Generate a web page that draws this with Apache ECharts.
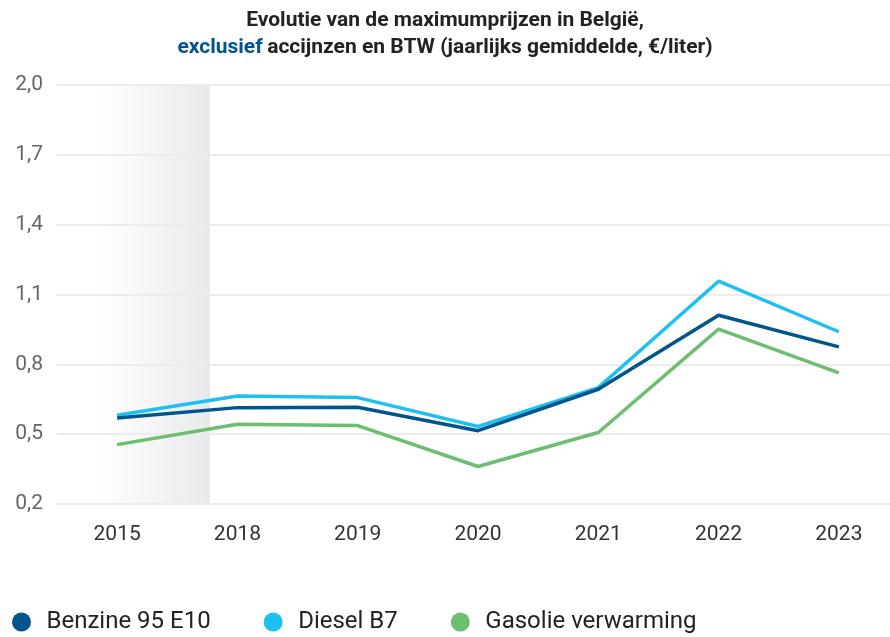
<!DOCTYPE html>
<html>
<head>
<meta charset="utf-8">
<script src="https://cdn.jsdelivr.net/npm/echarts@6/dist/echarts.min.js"></script>
<style>
  html, body { margin: 0; padding: 0; background: #fff; }
  #chart { width: 890px; height: 637px; }
</style>
</head>
<body>
<div id="chart"></div>
<script>
// jaren en gemiddelde prijzen (€/liter)
const years = ['2015', '2018', '2019', '2020', '2021', '2022', '2023'];
const benzine = [0.569, 0.614, 0.616, 0.515, 0.693, 1.011, 0.875];
const diesel = [0.581, 0.664, 0.657, 0.533, 0.700, 1.157, 0.940];
const gasolie = [0.455, 0.543, 0.537, 0.361, 0.507, 0.951, 0.763];
const yTicks = [0.2, 0.5, 0.8, 1.1, 1.4, 1.7, 2.0];

const font = "Roboto, 'Noto Sans', sans-serif";

const chart = echarts.init(document.getElementById('chart'));

const option = {
  backgroundColor: '#fff',
  textStyle: { fontFamily: font },
  title: {
    left: 'center',
    top: 2,
    text: '{b|Evolutie van de maximumprijzen in België,}\n{c|exclusief} {b|accijnzen en BTW (jaarlijks gemiddelde, €/liter)}',
    textStyle: {
      rich: {
        b: { fontFamily: font, fontSize: 21, fontWeight: 'bold', color: '#222', lineHeight: 27 },
        c: { fontFamily: font, fontSize: 21, fontWeight: 'bold', color: '#00558c', lineHeight: 27 }
      }
    }
  },
  legend: {
    left: 7,
    top: 605,
    icon: 'circle',
    itemWidth: 40,
    itemHeight: 19,
    itemGap: 53,
    textStyle: { fontFamily: font, fontSize: 24, color: '#222' },
    data: ['Benzine 95 E10', 'Diesel B7', 'Gasolie verwarming']
  },
  grid: {
    left: 57,
    width: 842,
    top: 85,
    bottom: 133,
    outerBoundsMode: 'none',
    containLabel: false
  },
  // grijze zone achter 2015
  graphic: [
    {
      type: 'rect',
      z: -10,
      shape: { x: 95, y: 85, width: 115, height: 419 },
      style: {
        fill: new echarts.graphic.LinearGradient(0, 0, 1, 0, [
          { offset: 0, color: 'rgba(236,237,239,0)' },
          { offset: 1, color: 'rgba(232,233,235,1)' }
        ])
      }
    }
  ],
  xAxis: {
    type: 'category',
    data: years,
    boundaryGap: true,
    axisLine: { show: false },
    axisTick: { show: false },
    axisLabel: { fontFamily: font, fontSize: 21, color: '#333', margin: 20 }
  },
  yAxis: {
    type: 'value',
    min: 0.2,
    max: 2.0,
    axisLine: { show: false },
    axisTick: { show: false, customValues: yTicks },
    axisLabel: {
      customValues: yTicks,
      fontFamily: font,
      fontSize: 21,
      color: '#666',
      margin: 14,
      formatter: v => v.toFixed(1).replace('.', ',')
    },
    splitLine: { show: true, lineStyle: { color: '#ececec', width: 2 } }
  },
  series: [
    {
      name: 'Benzine 95 E10',
      type: 'line',
      data: benzine,
      symbol: 'none',
      z: 4,
      lineStyle: { width: 3.5, color: '#00558c' },
      itemStyle: { color: '#00558c' }
    },
    {
      name: 'Diesel B7',
      type: 'line',
      data: diesel,
      symbol: 'none',
      z: 3,
      lineStyle: { width: 3.5, color: '#1ec0f2' },
      itemStyle: { color: '#1ec0f2' }
    },
    {
      name: 'Gasolie verwarming',
      type: 'line',
      data: gasolie,
      symbol: 'none',
      z: 3,
      lineStyle: { width: 3.5, color: '#6bbf6e' },
      itemStyle: { color: '#6bbf6e' }
    }
  ]
};

chart.setOption(option);
</script>
</body>
</html>
